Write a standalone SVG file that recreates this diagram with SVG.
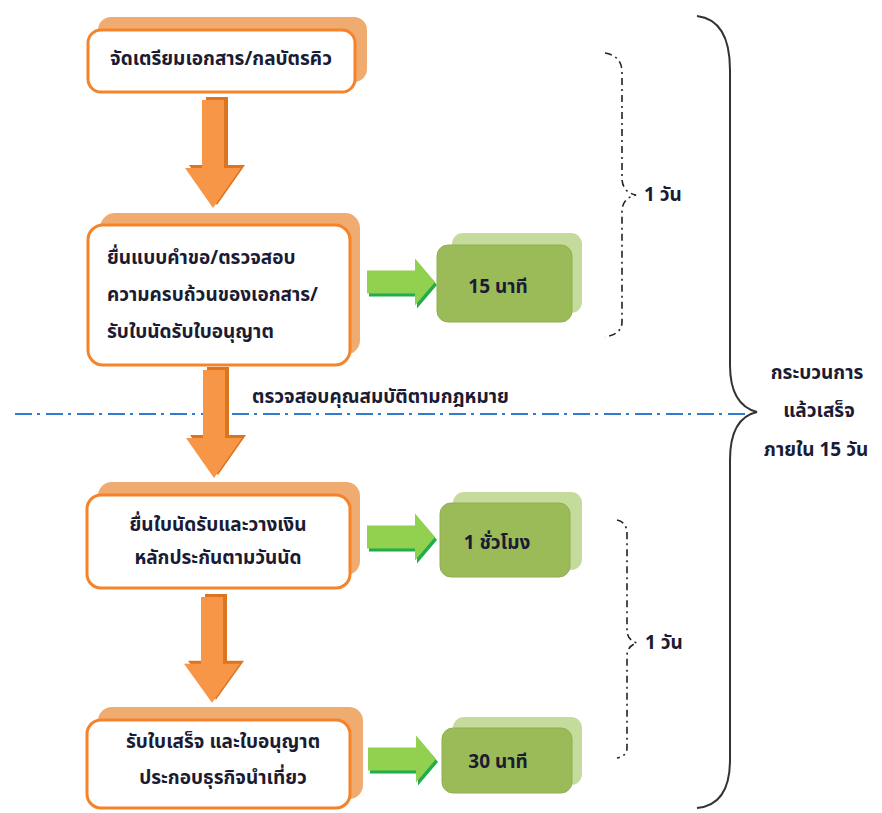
<svg xmlns="http://www.w3.org/2000/svg" width="882" height="813" viewBox="0 0 882 813">
  <style>
    .bg { fill: #ffffff; }
    .oshadow { fill: #F0AB70; }
    .obox { fill: #ffffff; stroke: #F5832A; stroke-width: 3; }
    .gshadow { fill: #C4DB9C; }
    .gbox { fill: #9BBB59; stroke: #8FAE50; stroke-width: 1; }
    .oarrow { fill: #F79646; }
    .oarrow-s { fill: #DD7420; }
    .garrow { fill: #92D050; }
    .garrow-s { fill: #1FAE4A; }
    .t { font-family: Tahoma, "Noto Sans Thai", "Noto Sans", "DejaVu Sans", sans-serif; font-size: 19px; font-weight: bold; fill: #1b1b33; }
    .mid { text-anchor: middle; }
    .brace-d { fill: none; stroke: #222222; stroke-width: 1.6; stroke-dasharray: 7 4 2 4; }
    .brace { fill: none; stroke: #333333; stroke-width: 2; }
    .divider { stroke: #2E7BCF; stroke-width: 2; stroke-dasharray: 17 5 3 6; }
  </style>

  <defs>
    <!-- block arrows drawn at the origin, placed with translate -->
    <polygon id="down" points="-11,0 11,0 11,68 28,68 0,108 -28,68 -11,68"/>
    <polygon id="right" points="0,-11.5 48,-11.5 48,-23.5 68,0 48,23.5 48,11.5 0,11.5"/>
  </defs>

  <rect class="bg" x="0" y="0" width="882" height="813"/>

  <!-- phase divider -->
  <line class="divider" x1="15" y1="414" x2="752" y2="414"/>

  <g id="connectors">
    <!-- downward orange arrows -->
    <use href="#down" class="oarrow-s" transform="translate(217,97)"/>
    <use href="#down" class="oarrow" transform="translate(213,100)"/>

    <use href="#down" class="oarrow-s" transform="translate(218,367)"/>
    <use href="#down" class="oarrow" transform="translate(214,370)"/>

    <use href="#down" class="oarrow-s" transform="translate(216,594) scale(1,0.98)"/>
    <use href="#down" class="oarrow" transform="translate(212,597) scale(1,0.98)"/>

    <!-- right green arrows -->
    <use href="#right" class="garrow-s" transform="translate(369,285)"/>
    <use href="#right" class="garrow" transform="translate(367,282)"/>

    <use href="#right" class="garrow-s" transform="translate(369,540)"/>
    <use href="#right" class="garrow" transform="translate(367,537)"/>

    <use href="#right" class="garrow-s" transform="translate(370,762)"/>
    <use href="#right" class="garrow" transform="translate(368,759)"/>
  </g>

  <!-- step 1 -->
  <g id="step1">
    <rect class="oshadow" x="98" y="17" width="269" height="65" rx="13"/>
    <rect class="obox" x="88" y="30" width="267" height="62" rx="13"/>
    <text class="t mid" x="221" y="65">จัดเตรียมเอกสาร/กลบัตรคิว</text>
  </g>

  <!-- step 2 -->
  <g id="step2">
    <rect class="oshadow" x="100" y="213" width="260" height="142" rx="15"/>
    <rect class="obox" x="88" y="225" width="262" height="140" rx="15"/>
    <text class="t" x="107" y="264">ยื่นแบบคำขอ/ตรวจสอบ</text>
    <text class="t" x="107" y="301">ความครบถ้วนของเอกสาร/</text>
    <text class="t" x="107" y="338">รับใบนัดรับใบอนุญาต</text>
  </g>

  <g id="time1">
    <rect class="gshadow" x="452" y="233" width="130" height="80" rx="11"/>
    <rect class="gbox" x="437" y="245" width="135" height="77" rx="11"/>
    <text class="t mid" x="498" y="293">15 นาที</text>
  </g>

  <text class="t" x="252" y="403">ตรวจสอบคุณสมบัติตามกฎหมาย</text>

  <!-- step 3 -->
  <g id="step3">
    <rect class="oshadow" x="98" y="482" width="262" height="93" rx="14"/>
    <rect class="obox" x="87" y="495" width="263" height="93" rx="14"/>
    <text class="t mid" x="218" y="531">ยื่นใบนัดรับและวางเงิน</text>
    <text class="t mid" x="218" y="564">หลักประกันตามวันนัด</text>
  </g>

  <g id="time2">
    <rect class="gshadow" x="453" y="492" width="129" height="78" rx="11"/>
    <rect class="gbox" x="440" y="503" width="130" height="74" rx="11"/>
    <text class="t mid" x="497" y="549">1 ชั่วโมง</text>
  </g>

  <!-- step 4 -->
  <g id="step4">
    <rect class="oshadow" x="98" y="707" width="265" height="92" rx="14"/>
    <rect class="obox" x="87" y="720" width="263" height="88" rx="14"/>
    <text class="t mid" x="223" y="748">รับใบเสร็จ และใบอนุญาต</text>
    <text class="t mid" x="223" y="784">ประกอบธุรกิจนำเที่ยว</text>
  </g>

  <g id="time3">
    <rect class="gshadow" x="453" y="717" width="129" height="68" rx="11"/>
    <rect class="gbox" x="442" y="728" width="130" height="65" rx="11"/>
    <text class="t mid" x="498" y="768">30 นาที</text>
  </g>

  <!-- duration brackets -->
  <g id="day1">
    <path class="brace-d" d="M605,53 Q622,56 622,72 L622,178 Q622,192 636,195 Q622,198 622,212 L622,322 Q622,334 605,337"/>
    <text class="t" x="644" y="201">1 วัน</text>
  </g>
  <g id="day2">
    <path class="brace-d" d="M617,520 Q627,522 627,534 L627,630 Q627,640 637,643 Q627,646 627,656 L627,748 Q627,756 617,758"/>
    <text class="t" x="645" y="649">1 วัน</text>
  </g>

  <g id="total">
    <path class="brace" d="M697,16 Q730,20 730,70 L730,365 Q730,405 757,412 Q730,418 730,460 L730,760 Q730,805 697,808"/>
    <text class="t mid" x="817" y="379">กระบวนการ</text>
    <text class="t mid" x="819" y="417">แล้วเสร็จ</text>
    <text class="t mid" x="816" y="456">ภายใน 15 วัน</text>
  </g>
</svg>
